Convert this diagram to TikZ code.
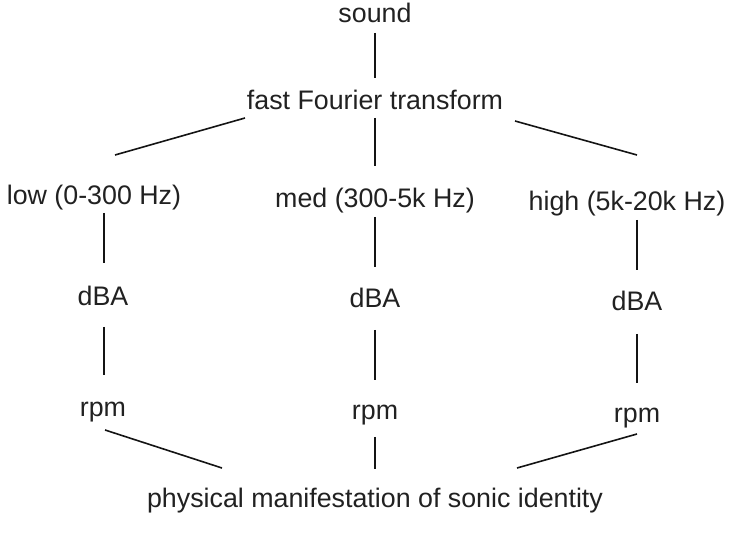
\documentclass[tikz,border=0pt]{standalone}
\usepackage{fontspec}
\setmainfont{Liberation Sans}
\usetikzlibrary{calc}
\tikzset{
  lbl/.style={anchor=base, inner sep=0pt, font=\fontsize{26.8}{30}\selectfont, text=black!87},
  link/.style={line width=1.6pt, draw=black!92}
}
\begin{document}
\begin{tikzpicture}[x=1pt, y=-1pt]
  \useasboundingbox (0,0) rectangle (732,545);

  % labels
  \node[lbl] (snd)  at (375,23)  {sound};
  \node[lbl] (fft)  at (375,110) {fast Fourier transform};
  \node[lbl] (low)  at (94,205)  {low (0-300 Hz)};
  \node[lbl] (med)  at (375,208) {med (300-5k Hz)};
  \node[lbl] (high) at (627,211) {high (5k-20k Hz)};
  \node[lbl] (dl)   at (103,306) {dBA};
  \node[lbl] (dm)   at (375,308) {dBA};
  \node[lbl] (dh)   at (637,311) {dBA};
  \node[lbl] (rl)   at (103,417) {rpm};
  \node[lbl] (rm)   at (375,420) {rpm};
  \node[lbl] (rh)   at (637,423) {rpm};
  \node[lbl] (phys) at (375,508) {physical manifestation of sonic identity};

  % connectors
  \draw[link] ($(snd.base)+(0,10)$) -- ($(fft.base)+(0,-32)$);
  \draw[link] ($(fft.base)+(-130,8)$) -- ($(low.base)+(21,-50)$);
  \draw[link] ($(fft.base)+(0,8)$) -- ($(med.base)+(0,-42)$);
  \draw[link] ($(fft.base)+(140,11)$) -- ($(high.base)+(10,-56)$);

  \draw[link] ($(low.base)+(10,8)$) -- ($(dl.base)+(1,-43)$);
  \draw[link] ($(med.base)+(0,9)$) -- ($(dm.base)+(0,-41)$);
  \draw[link] ($(high.base)+(10,9)$) -- ($(dh.base)+(0,-41)$);

  \draw[link] ($(dl.base)+(1,21)$) -- ($(rl.base)+(1,-42)$);
  \draw[link] ($(dm.base)+(0,22)$) -- ($(rm.base)+(0,-40)$);
  \draw[link] ($(dh.base)+(0,23)$) -- ($(rh.base)+(0,-40)$);

  \draw[link] ($(rl.base)+(2,13)$) -- ($(phys.base)+(-153,-40)$);
  \draw[link] ($(rm.base)+(0,17)$) -- ($(phys.base)+(0,-39)$);
  \draw[link] ($(rh.base)+(0,11)$) -- ($(phys.base)+(142,-40)$);
\end{tikzpicture}
\end{document}
